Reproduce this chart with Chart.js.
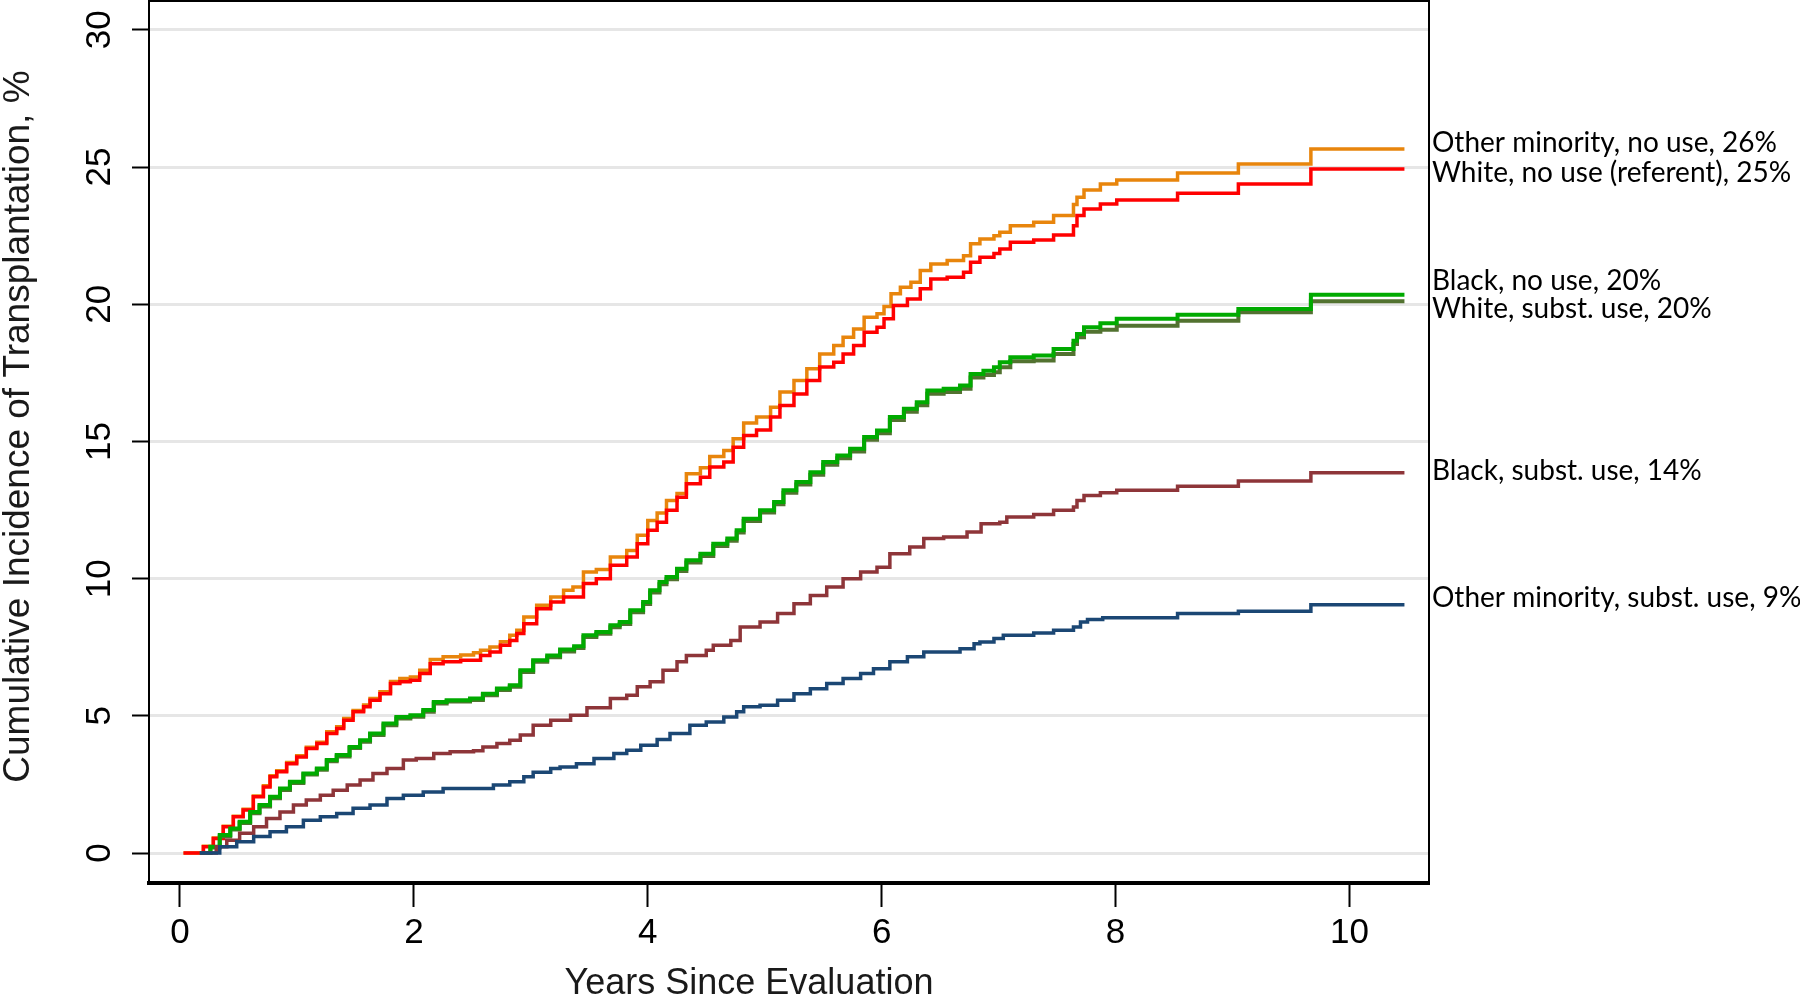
<!DOCTYPE html>
<html>
<head>
<meta charset="utf-8">
<title>Cumulative incidence of transplantation</title>
<script src="https://cdn.jsdelivr.net/npm/chart.js@4"></script>
<style>
  html, body { margin: 0; padding: 0; background: #fff; }
  #wrap { width: 1800px; height: 998px; }
</style>
</head>
<body>
<div id="wrap"><canvas id="chart" width="1800" height="998"></canvas></div>
<script>
// Ticks
const xTicks = [0, 2, 4, 6, 8, 10];
const yTicks = [0, 5, 10, 15, 20, 25, 30];

// Other minority, no use (orange)
const orangeX = [0.03, 0.2, 0.285, 0.37, 0.456, 0.54, 0.627, 0.713, 0.77, 0.827, 0.912, 0.998, 1.08, 1.17, 1.255, 1.34, 1.40, 1.48, 1.57, 1.625, 1.71, 1.80, 1.88, 1.97, 2.05, 2.14, 2.25, 2.40, 2.51, 2.57, 2.65, 2.74, 2.82, 2.88, 2.94, 3.05, 3.17, 3.28, 3.36, 3.45, 3.56, 3.68, 3.82, 3.91, 4.0, 4.08, 4.16, 4.25, 4.33, 4.45, 4.53, 4.65, 4.73, 4.82, 4.93, 5.05, 5.13, 5.25, 5.36, 5.47, 5.59, 5.67, 5.76, 5.85, 5.96, 6.02, 6.08, 6.16, 6.25, 6.33, 6.42, 6.56, 6.7, 6.76, 6.84, 6.96, 7.01, 7.1, 7.3, 7.47, 7.64, 7.67, 7.73, 7.87, 8.01, 8.53, 9.05, 9.67, 10.47];
const orangeY = [0, 0.25, 0.55, 0.98, 1.34, 1.6, 2.08, 2.45, 2.82, 3.0, 3.3, 3.55, 3.86, 4.04, 4.42, 4.6, 4.9, 5.2, 5.4, 5.63, 5.88, 6.25, 6.36, 6.42, 6.66, 7.05, 7.15, 7.22, 7.3, 7.39, 7.51, 7.7, 7.94, 8.12, 8.6, 9.03, 9.33, 9.58, 9.7, 10.24, 10.33, 10.79, 11.03, 11.58, 12.12, 12.39, 12.85, 13.1, 13.82, 14.04, 14.45, 14.67, 15.1, 15.67, 15.89, 16.25, 16.8, 17.22, 17.65, 18.19, 18.5, 18.8, 19.1, 19.53, 19.65, 19.92, 20.38, 20.62, 20.8, 21.23, 21.47, 21.59, 21.77, 22.2, 22.38, 22.5, 22.62, 22.86, 22.99, 23.23, 23.63, 23.9, 24.16, 24.38, 24.53, 24.78, 25.11, 25.66, 25.66];

// White, no use (red)
const redX = [0.03, 0.2, 0.285, 0.37, 0.456, 0.54, 0.627, 0.713, 0.77, 0.827, 0.912, 0.998, 1.08, 1.17, 1.255, 1.34, 1.40, 1.48, 1.57, 1.625, 1.71, 1.80, 1.88, 1.97, 2.05, 2.14, 2.25, 2.40, 2.51, 2.57, 2.65, 2.74, 2.82, 2.88, 2.94, 3.05, 3.17, 3.28, 3.45, 3.56, 3.68, 3.82, 3.91, 4.0, 4.08, 4.16, 4.25, 4.33, 4.45, 4.53, 4.65, 4.73, 4.82, 4.93, 5.05, 5.13, 5.25, 5.36, 5.47, 5.59, 5.67, 5.76, 5.85, 5.96, 6.02, 6.1, 6.22, 6.33, 6.42, 6.56, 6.7, 6.76, 6.84, 6.96, 7.01, 7.1, 7.3, 7.47, 7.64, 7.67, 7.73, 7.87, 8.01, 8.53, 9.05, 9.67, 10.47];
const redY = [0, 0.23, 0.53, 0.96, 1.32, 1.57, 2.05, 2.41, 2.78, 2.96, 3.26, 3.5, 3.81, 3.99, 4.36, 4.54, 4.84, 5.15, 5.33, 5.57, 5.81, 6.18, 6.24, 6.3, 6.54, 6.9, 6.97, 7.03, 7.03, 7.2, 7.33, 7.57, 7.75, 8.0, 8.36, 8.9, 9.15, 9.33, 9.82, 10.0, 10.49, 10.79, 11.27, 11.76, 12.06, 12.49, 12.97, 13.46, 13.7, 14.07, 14.25, 14.79, 15.22, 15.42, 15.89, 16.31, 16.73, 17.22, 17.71, 17.89, 18.19, 18.5, 18.98, 19.16, 19.47, 19.95, 20.19, 20.56, 20.92, 20.98, 21.17, 21.53, 21.71, 21.85, 22.01, 22.26, 22.34, 22.52, 22.86, 23.23, 23.47, 23.65, 23.8, 24.04, 24.38, 24.93, 24.93];

// Black, no use (green)
const greenX = [0.17, 0.26, 0.34, 0.43, 0.51, 0.6, 0.68, 0.77, 0.855, 0.94, 1.055, 1.17, 1.255, 1.34, 1.45, 1.54, 1.625, 1.74, 1.85, 1.97, 2.08, 2.17, 2.28, 2.48, 2.59, 2.71, 2.82, 2.91, 3.02, 3.14, 3.25, 3.37, 3.45, 3.56, 3.68, 3.76, 3.85, 3.96, 4.02, 4.1, 4.16, 4.25, 4.33, 4.45, 4.56, 4.68, 4.76, 4.82, 4.96, 5.08, 5.16, 5.27, 5.39, 5.5, 5.62, 5.73, 5.85, 5.96, 6.07, 6.19, 6.3, 6.39, 6.53, 6.67, 6.76, 6.87, 6.96, 7.01, 7.1, 7.3, 7.47, 7.64, 7.67, 7.73, 7.87, 8.01, 8.53, 9.05, 9.67, 10.47];
const greenY = [0, 0.23, 0.66, 0.9, 1.14, 1.5, 1.75, 2.05, 2.35, 2.6, 2.9, 3.08, 3.39, 3.57, 3.87, 4.11, 4.36, 4.72, 4.96, 5.02, 5.21, 5.51, 5.57, 5.63, 5.81, 6.0, 6.12, 6.66, 7.03, 7.2, 7.42, 7.54, 7.94, 8.06, 8.3, 8.42, 8.85, 9.15, 9.58, 9.88, 10.06, 10.36, 10.67, 10.91, 11.27, 11.46, 11.76, 12.18, 12.49, 12.79, 13.22, 13.52, 13.88, 14.25, 14.49, 14.73, 15.16, 15.4, 15.89, 16.19, 16.43, 16.86, 16.92, 17.04, 17.46, 17.58, 17.7, 17.89, 18.07, 18.13, 18.37, 18.67, 18.92, 19.16, 19.31, 19.47, 19.62, 19.83, 20.35, 20.35];

// White, subst. use (olive)
const oliveX = [0.17, 0.26, 0.34, 0.43, 0.51, 0.6, 0.68, 0.77, 0.855, 0.94, 1.055, 1.17, 1.255, 1.34, 1.45, 1.54, 1.625, 1.74, 1.85, 1.97, 2.08, 2.17, 2.28, 2.48, 2.59, 2.71, 2.82, 2.91, 3.02, 3.14, 3.25, 3.37, 3.45, 3.56, 3.68, 3.76, 3.85, 3.96, 4.02, 4.1, 4.16, 4.25, 4.33, 4.45, 4.56, 4.68, 4.76, 4.82, 4.96, 5.08, 5.16, 5.27, 5.39, 5.5, 5.62, 5.73, 5.85, 5.96, 6.07, 6.19, 6.3, 6.39, 6.53, 6.67, 6.76, 6.87, 6.96, 7.01, 7.1, 7.3, 7.47, 7.64, 7.67, 7.73, 7.87, 8.01, 8.53, 9.05, 9.67, 10.47];
const oliveY = [0, 0.2, 0.6, 0.86, 1.1, 1.45, 1.7, 2.0, 2.3, 2.55, 2.86, 3.04, 3.35, 3.52, 3.83, 4.06, 4.3, 4.66, 4.9, 4.97, 5.15, 5.45, 5.52, 5.58, 5.75, 5.94, 6.06, 6.6, 6.97, 7.14, 7.35, 7.47, 7.87, 7.99, 8.23, 8.35, 8.78, 9.08, 9.5, 9.8, 9.98, 10.28, 10.59, 10.83, 11.19, 11.38, 11.68, 12.1, 12.41, 12.71, 13.13, 13.43, 13.79, 14.15, 14.39, 14.63, 15.06, 15.3, 15.78, 16.08, 16.32, 16.74, 16.8, 16.92, 17.33, 17.42, 17.52, 17.7, 17.92, 17.95, 18.19, 18.55, 18.8, 19.0, 19.07, 19.22, 19.4, 19.71, 20.11, 20.11];

// Black, subst. use (maroon)
const maroonX = [0.17, 0.31, 0.40, 0.51, 0.63, 0.74, 0.855, 0.97, 1.08, 1.2, 1.31, 1.43, 1.54, 1.65, 1.77, 1.91, 2.02, 2.17, 2.31, 2.51, 2.59, 2.71, 2.82, 2.91, 3.02, 3.17, 3.34, 3.48, 3.68, 3.82, 3.91, 4.02, 4.13, 4.25, 4.33, 4.5, 4.56, 4.71, 4.79, 4.96, 5.11, 5.25, 5.39, 5.53, 5.67, 5.82, 5.96, 6.07, 6.24, 6.36, 6.53, 6.73, 6.85, 7.01, 7.07, 7.3, 7.47, 7.64, 7.67, 7.73, 7.87, 8.01, 8.53, 9.05, 9.67, 10.47];
const maroonY = [0, 0.23, 0.47, 0.72, 0.96, 1.26, 1.5, 1.75, 1.93, 2.11, 2.29, 2.48, 2.66, 2.9, 3.08, 3.39, 3.45, 3.63, 3.69, 3.73, 3.87, 3.99, 4.11, 4.3, 4.66, 4.84, 5.02, 5.3, 5.63, 5.75, 6.06, 6.24, 6.66, 6.97, 7.2, 7.39, 7.57, 7.75, 8.24, 8.42, 8.73, 9.09, 9.39, 9.7, 10.0, 10.24, 10.42, 10.91, 11.15, 11.46, 11.52, 11.7, 12.0, 12.06, 12.25, 12.34, 12.49, 12.61, 12.85, 13.03, 13.13, 13.22, 13.37, 13.56, 13.86, 13.86];

// Other minority, subst. use (navy)
const navyX = [0.17, 0.34, 0.485, 0.63, 0.77, 0.91, 1.055, 1.2, 1.34, 1.48, 1.625, 1.77, 1.91, 2.08, 2.25, 2.68, 2.82, 2.94, 3.02, 3.17, 3.25, 3.39, 3.54, 3.71, 3.82, 3.94, 4.08, 4.19, 4.36, 4.5, 4.65, 4.76, 4.82, 4.96, 5.11, 5.25, 5.39, 5.53, 5.67, 5.82, 5.93, 6.07, 6.22, 6.36, 6.67, 6.79, 6.84, 6.96, 7.04, 7.3, 7.47, 7.64, 7.7, 7.76, 7.89, 8.53, 9.05, 9.67, 10.47];
const navyY = [0, 0.23, 0.41, 0.6, 0.78, 0.96, 1.2, 1.32, 1.44, 1.63, 1.75, 1.99, 2.11, 2.23, 2.35, 2.48, 2.6, 2.78, 2.95, 3.08, 3.14, 3.26, 3.45, 3.63, 3.75, 3.93, 4.14, 4.36, 4.66, 4.78, 4.96, 5.15, 5.33, 5.39, 5.57, 5.81, 5.99, 6.18, 6.36, 6.54, 6.72, 6.97, 7.15, 7.33, 7.45, 7.63, 7.69, 7.82, 7.94, 8.02, 8.12, 8.24, 8.42, 8.51, 8.58, 8.73, 8.81, 9.05, 9.05];

// Labels at the right edge, and the level where each one sits
const endLabels = ["Other minority, no use, 26%", "White, no use (referent), 25%", "Black, no use, 20%",
                   "White, subst. use, 20%", "Black, subst. use, 14%", "Other minority, subst. use, 9%"];
const endLabelY = [25.89, 24.8, 20.86, 19.84, 13.94, 9.28];

const pts = (xs, ys) => xs.map((x, i) => ({ x: x, y: ys[i] }));

function serie(data, color, width, order) {
    // 'before': horizontal first, then the jump at the event time
    return {
        data: data, borderColor: color, borderWidth: width, pointRadius: 0,
        stepped: 'before', fill: false, order: order
    };
}

// Marco del gráfico: arriba y a la derecha + etiquetas finales
const marco = {
    id: 'marco',
    afterDraw(chart) {
        const { ctx, chartArea: a } = chart;
        const y = chart.scales.y;
        ctx.save();
        ctx.strokeStyle = '#000';
        ctx.lineWidth = 2;
        ctx.beginPath();
        ctx.moveTo(a.left, a.top);
        ctx.lineTo(a.right, a.top);
        ctx.lineTo(a.right, a.bottom);
        ctx.stroke();
        ctx.fillStyle = '#000';
        ctx.font = '28px Lato';
        ctx.textBaseline = 'middle';
        ctx.textAlign = 'left';
        endLabels.forEach((t, i) => ctx.fillText(t, a.right + 3, y.getPixelForValue(endLabelY[i])));
        ctx.restore();
    }
};

const sinPadding = s => { s.paddingTop = 0; s.paddingBottom = 0; s.paddingLeft = 0; s.paddingRight = 0; };

new Chart(document.getElementById('chart'), {
    type: 'line',
    data: {
        datasets: [
            serie(pts(navyX, navyY), '#1b4774', 3.5, 1),
            serie(pts(maroonX, maroonY), '#8e3539', 3.5, 2),
            serie(pts(greenX, greenY), '#00aa00', 4, 3),
            serie(pts(oliveX, oliveY), '#527230', 4, 4),
            serie(pts(redX, redY), '#ff0000', 3.5, 5),
            serie(pts(orangeX, orangeY), '#e8850c', 3.5, 6)
        ]
    },
    options: {
        responsive: false,
        animation: false,
        layout: { padding: { top: 1, right: 371, left: 0, bottom: 0 } },
        plugins: { legend: { display: false }, tooltip: { enabled: false } },
        scales: {
            x: {
                type: 'linear', min: -0.265, max: 10.68,
                afterBuildTicks: s => { s.ticks = xTicks.map(v => ({ value: v })); },
                afterFit: s => { s.height = 115; sinPadding(s); },
                grid: { drawOnChartArea: false, tickLength: 24, tickColor: '#000', tickWidth: 2 },
                border: { display: true, color: '#000', width: 4 },
                ticks: { color: '#000', padding: 5, maxRotation: 0, font: { family: 'Liberation Sans, Arial', size: 35 } },
                title: {
                    display: true, text: 'Years Since Evaluation        ', color: '#1a1a1a', padding: 0,
                    font: { family: 'Liberation Sans, Arial', size: 36, lineHeight: 0.8 }
                }
            },
            y: {
                type: 'linear', min: -1.09, max: 31.05,
                afterBuildTicks: s => { s.ticks = yTicks.map(v => ({ value: v })); },
                afterFit: s => { s.width = 149; sinPadding(s); },
                grid: { color: '#e6e6e6', lineWidth: 3, tickLength: 17, tickColor: '#000', tickWidth: 2 },
                border: { display: true, color: '#000', width: 2 },
                ticks: {
                    color: '#000', padding: 12, minRotation: 90, maxRotation: 90, crossAlign: 'center',
                    font: { family: 'Liberation Sans, Arial', size: 35 }
                },
                title: {
                    display: true, text: '   Cumulative Incidence of Transplantation, %', color: '#1a1a1a', padding: 0,
                    font: { family: 'Liberation Sans, Arial', size: 37, lineHeight: 1 }
                }
            }
        }
    },
    plugins: [marco]
});
</script>
</body>
</html>
